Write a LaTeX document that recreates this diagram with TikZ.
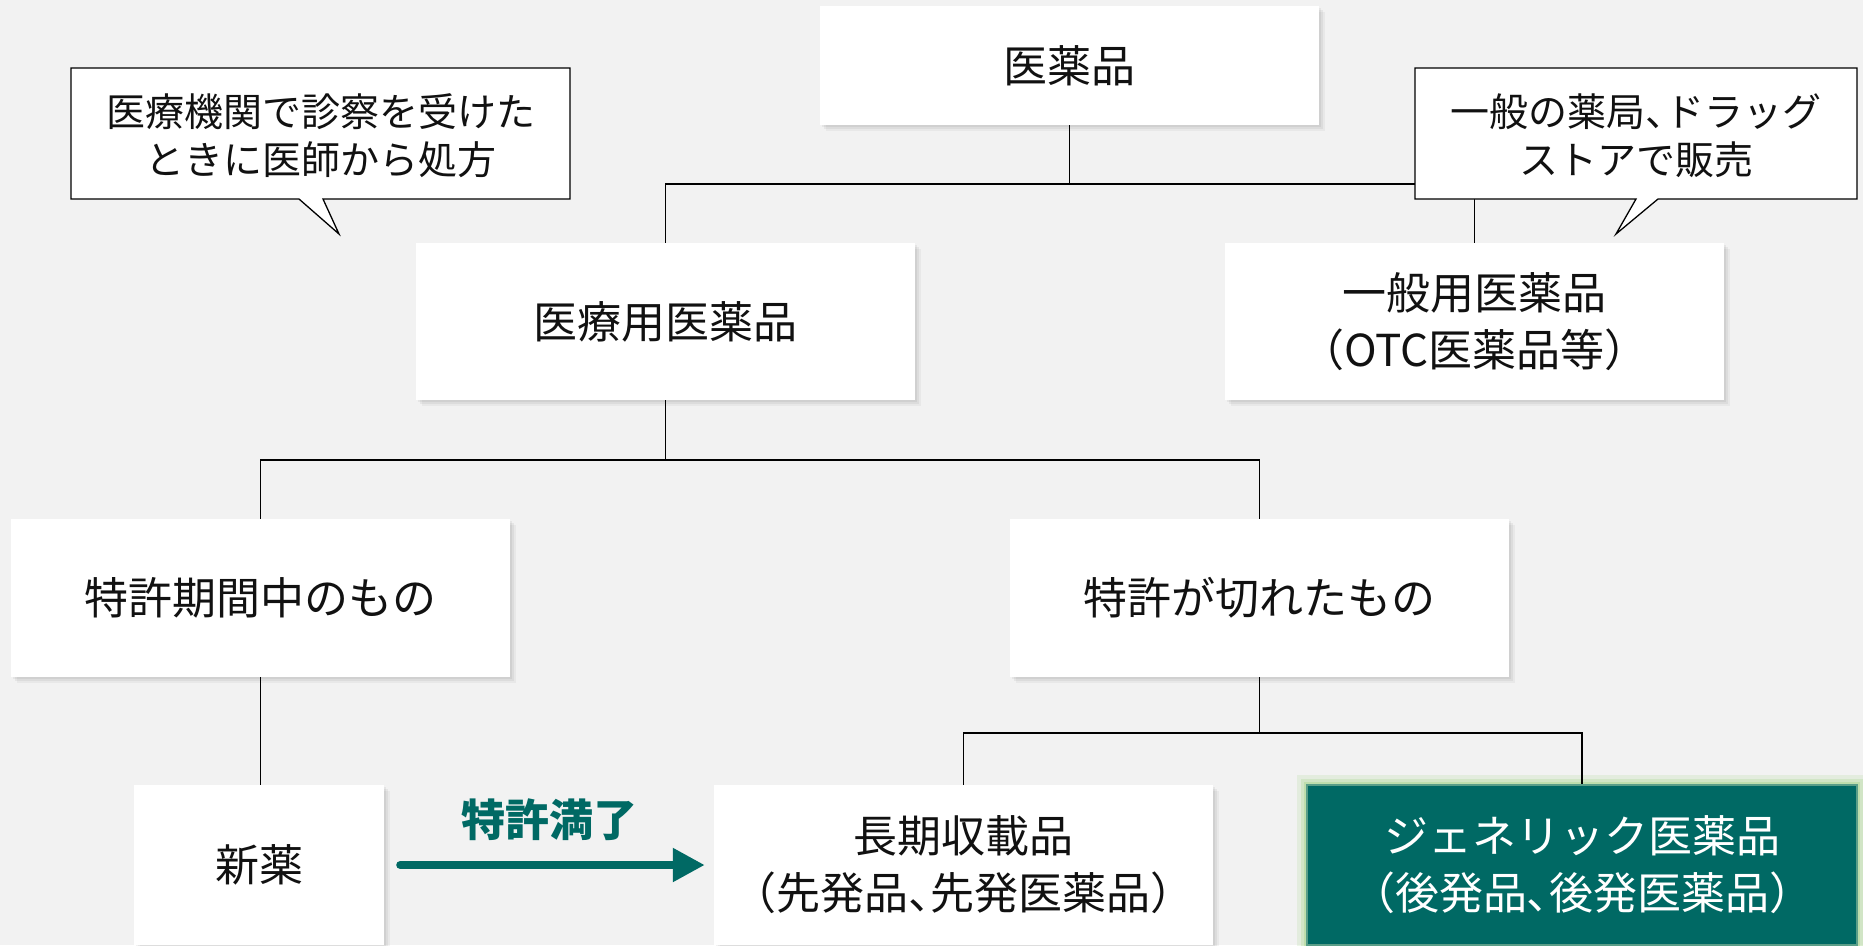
\documentclass[tikz,border=0pt]{standalone}
\usepackage{fontspec}
\setmainfont{Noto Sans CJK JP}
\usetikzlibrary{arrows.meta,shadows}
\definecolor{bg}{HTML}{F2F2F2}
\definecolor{tealmain}{HTML}{006964}
\definecolor{glowgreen}{HTML}{A9D68F}
\definecolor{tealedge}{HTML}{5A9E88}
\definecolor{txt}{HTML}{111111}
\newcommand{\fsz}[2]{\fontsize{#1pt}{#2pt}\selectfont}
\tikzset{
  softshadow/.style={
    general shadow={fill=black, opacity=0.05, shadow xshift=2pt, shadow yshift=-2pt},
    general shadow={fill=black, opacity=0.05, shadow xshift=4pt, shadow yshift=-4pt},
    general shadow={fill=black, opacity=0.04, shadow xshift=6pt, shadow yshift=-6pt}},
  box/.style={fill=white, inner sep=0pt, align=center, text=txt,
    font=\fsz{44}{57}, softshadow},
  greenbox/.style={fill=tealmain, draw=tealedge, line width=1.5pt, inner sep=0pt,
    align=center, text=white, font=\fsz{44}{57},
    preaction={draw=glowgreen, line width=20pt, opacity=0.2},
    preaction={draw=glowgreen, line width=13pt, opacity=0.3},
    preaction={draw=glowgreen, line width=6pt, opacity=0.45}},
  link/.style={draw=black, line width=1.8pt},
  callout/.style={fill=white, draw=black, line width=1.3pt, line join=miter},
  calltext/.style={align=center, text=txt, font=\fsz{39}{48}, inner sep=0pt},
  bigarrow/.style={draw=tealmain, line width=8pt, line cap=round,
    -{Triangle[length=32pt, width=32pt]}},
}
\begin{document}
\begin{tikzpicture}[x=1pt,y=-1pt]
\useasboundingbox (0,0) rectangle (1863,945);
\fill[bg] (0,0) rectangle (1863,945);
\clip (0,0) rectangle (1863,945);

% boxes
\node[box, minimum width=499pt, minimum height=119pt] (iyaku) at (1069.5,65.5) {医薬品};
\node[box, minimum width=499pt, minimum height=157pt] (iryo) at (665.5,321.5) {医療用医薬品};
\node[box, minimum width=499pt, minimum height=157pt] (ippan) at (1474.5,321.5) {一般用医薬品\\（OTC医薬品等）};
\node[box, minimum width=499pt, minimum height=158pt] (tokkyo) at (260.5,598) {特許期間中のもの};
\node[box, minimum width=499pt, minimum height=158pt] (kireta) at (1259.5,598) {特許が切れたもの};
\node[box, minimum width=250pt, minimum height=160pt] (shinyaku) at (259,865) {新薬};
\node[box, minimum width=499pt, minimum height=160pt] (choki) at (963.5,865) {長期収載品\\（先発品{\addfontfeatures{RawFeature=+palt}、}先発医薬品）};
\node[greenbox, minimum width=550pt, minimum height=160pt] (generic) at (1582,865) {ジェネリック医薬品\\（後発品{\addfontfeatures{RawFeature=+palt}、}後発医薬品）};

% bus coordinates
\coordinate (bus1) at (0,184);
\coordinate (bus2) at (0,460);
\coordinate (bus3) at (0,733);

% tree connectors
\draw[link] (iyaku.south) -- (iyaku.south |- bus1) -| (iryo.north);
\draw[link] (iyaku.south |- bus1) -| (ippan.north);
\draw[link] (iryo.south) -- (iryo.south |- bus2) -| (tokkyo.north);
\draw[link] (iryo.south |- bus2) -| (kireta.north);
\draw[link] (tokkyo.south) -- (tokkyo.south |- shinyaku.north);
\draw[link] (kireta.south) -- (kireta.south |- bus3) -| (choki.north);
\draw[link] (kireta.south |- bus3) -| (generic.north);

% patent expiry arrow
\draw[bigarrow, shorten <=16pt, shorten >=9pt] (shinyaku) -- (choki)
  node[midway, yshift=45pt, text=tealmain, font=\fsz{44}{57}\bfseries, inner sep=0pt] (mankyo) {特許満了};

% callouts
\draw[callout] (71,68) -- (570,68) -- (570,199) -- (323,199) -- (339,234) -- (299,199) -- (71,199) -- cycle;
\node[calltext] (lcall) at (320.5,136) {医療機関で診察を受けた\\ときに医師から処方};
\draw[callout] (1415,68) -- (1857,68) -- (1857,199) -- (1658,199) -- (1616,234) -- (1636,199) -- (1415,199) -- cycle;
\node[calltext] (rcall) at (1636,136) {一般の薬局{\addfontfeatures{RawFeature=+palt}、}ドラッグ\\ストアで販売};
\end{tikzpicture}
\end{document}
